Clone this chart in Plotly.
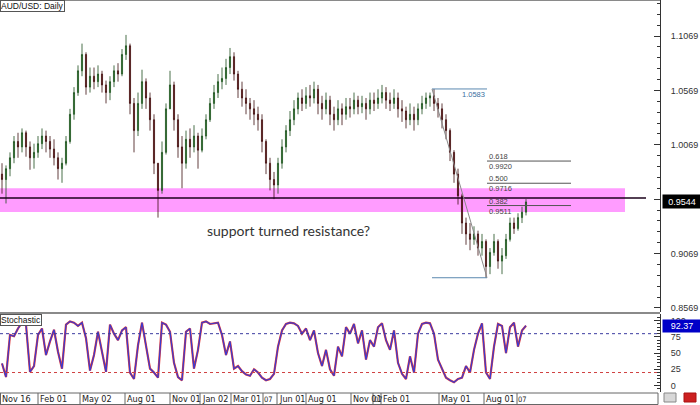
import plotly.graph_objects as go

# ---------------- data ----------------
first_open = 0.980
closes = [
    0.975, 0.985, 0.995, 1.010, 1.005, 1.018, 1.005, 0.995, 1.000, 1.008,
    1.015, 1.010, 1.003, 0.995, 0.985, 0.990, 1.010, 1.035, 1.055, 1.075,
    1.090, 1.060, 1.070, 1.065, 1.072, 1.062, 1.055, 1.065, 1.075, 1.072,
    1.090, 1.098, 1.045, 1.020, 1.045, 1.065, 1.050, 1.030, 0.990, 0.965,
    1.000, 1.040, 1.062, 1.030, 1.005, 0.990, 1.012, 1.005, 1.015, 1.002,
    1.015, 1.030, 1.045, 1.055, 1.065, 1.068, 1.078, 1.088, 1.072, 1.058,
    1.050, 1.045, 1.040, 1.035, 1.030, 1.010, 0.990, 0.975, 0.970, 0.990,
    1.005, 1.020, 1.030, 1.040, 1.050, 1.045, 1.052, 1.050, 1.058, 1.045,
    1.040, 1.048, 1.035, 1.030, 1.040, 1.035, 1.042, 1.040, 1.048, 1.042,
    1.045, 1.040, 1.048, 1.045, 1.050, 1.055, 1.048, 1.045, 1.050, 1.040,
    1.038, 1.030, 1.035, 1.030, 1.040, 1.045, 1.050, 1.052, 1.045, 1.040,
    1.030, 1.020, 1.000, 0.980, 0.960, 0.935, 0.925, 0.920, 0.925, 0.912,
    0.918, 0.895, 0.908, 0.918, 0.900, 0.905, 0.920, 0.935, 0.930, 0.940,
    0.945, 0.9544,
]
highs = [
    0.990, 0.988, 1.000, 1.015, 1.018, 1.022, 1.020, 1.010, 1.008, 1.015,
    1.022, 1.020, 1.015, 1.012, 1.000, 0.995, 1.015, 1.040, 1.060, 1.080,
    1.100, 1.092, 1.078, 1.078, 1.080, 1.075, 1.066, 1.070, 1.080, 1.082,
    1.095, 1.108, 1.100, 1.050, 1.055, 1.076, 1.068, 1.055, 1.035, 0.990,
    1.010, 1.045, 1.075, 1.065, 1.035, 1.015, 1.020, 1.022, 1.025, 1.018,
    1.022, 1.035, 1.050, 1.062, 1.072, 1.078, 1.086, 1.096, 1.092, 1.075,
    1.065, 1.058, 1.050, 1.048, 1.042, 1.035, 1.012, 0.995, 0.982, 0.995,
    1.012, 1.025, 1.038, 1.048, 1.055, 1.058, 1.060, 1.062, 1.065, 1.062,
    1.052, 1.055, 1.052, 1.042, 1.048, 1.045, 1.050, 1.050, 1.055, 1.052,
    1.052, 1.050, 1.055, 1.055, 1.058, 1.062, 1.060, 1.055, 1.058, 1.055,
    1.048, 1.042, 1.045, 1.042, 1.045, 1.052, 1.055, 1.055, 1.0583, 1.050,
    1.045, 1.035, 1.022, 1.002, 0.985, 0.962, 0.940, 0.935, 0.932, 0.928,
    0.925, 0.920, 0.912, 0.925, 0.920, 0.912, 0.925, 0.940, 0.940, 0.944,
    0.950, 0.957,
]
lows = [
    0.962, 0.953, 0.978, 0.990, 0.995, 1.000, 0.996, 0.984, 0.985, 0.995,
    1.003, 1.000, 0.995, 0.988, 0.975, 0.972, 0.988, 1.008, 1.030, 1.052,
    1.070, 1.053, 1.055, 1.058, 1.060, 1.055, 1.045, 1.048, 1.060, 1.065,
    1.070, 1.085, 1.035, 1.000, 1.015, 1.040, 1.040, 1.020, 0.980, 0.940,
    0.962, 0.998, 1.040, 1.020, 0.995, 0.967, 0.985, 0.995, 1.000, 0.985,
    1.000, 1.012, 1.028, 1.040, 1.050, 1.058, 1.062, 1.072, 1.066, 1.050,
    1.042, 1.035, 1.030, 1.025, 1.020, 1.000, 0.980, 0.965, 0.957, 0.962,
    0.985, 1.000, 1.015, 1.025, 1.035, 1.038, 1.040, 1.042, 1.045, 1.035,
    1.030, 1.035, 1.025, 1.020, 1.025, 1.025, 1.030, 1.032, 1.035, 1.035,
    1.036, 1.030, 1.035, 1.038, 1.040, 1.045, 1.040, 1.038, 1.040, 1.032,
    1.028, 1.022, 1.025, 1.020, 1.025, 1.035, 1.040, 1.042, 1.038, 1.032,
    1.022, 1.012, 0.992, 0.972, 0.952, 0.925, 0.915, 0.910, 0.915, 0.905,
    0.905, 0.8847, 0.888, 0.905, 0.893, 0.888, 0.902, 0.918, 0.925, 0.928,
    0.935, 0.942,
]
stoch_k = [
    34, 13, 78, 76, 88, 97, 94, 21, 30, 78,
    88, 47, 68, 86, 52, 26, 94, 99, 97, 92,
    97, 73, 23, 47, 83, 52, 21, 94, 80, 70,
    85, 90, 20, 10, 62, 97, 62, 26, 20, 12,
    97, 94, 83, 35, 13, 8, 83, 88, 26, 55,
    97, 99, 95, 96, 97, 78, 47, 68, 26, 30,
    22, 17, 15, 25, 20, 12, 8, 10, 18, 60,
    85, 95, 97, 96, 92, 80, 88, 70, 85, 50,
    30, 55, 25, 15, 60, 45, 90, 80, 95, 65,
    85, 40, 70, 60, 90, 96, 70, 55, 85, 35,
    18, 10, 45, 20, 80, 95, 97, 96, 80, 40,
    25, 12, 8, 5, 10, 12, 30, 20, 55, 80,
    96, 20, 10, 60, 95, 92, 50, 90, 97, 60,
    85, 92.37,
]
date_labels = ["Nov 16", "Feb 01", "May 02", "Aug 01", "Nov 01", "Jan 02", "Mar 01", "07",
               "Jun 01", "Aug 01", "Nov 01", "07", "Feb 01", "May 01", "Aug 01", "07"]
date_label_bars = [-0.5, 9, 19.5, 30.75, 42, 49.5, 57.25, 65.25,
                   68.75, 76, 87.25, 92.75, 94.75, 109.25, 120.5, 128.75]

fib_ratio_labels = ["0.618", "0.500", "0.382"]
fib_prices = [0.9920, 0.9716, 0.9511]
swing_high = 1.0583
swing_low = 0.8847
swing_high_bar = 107.5
swing_low_bar = 121.25
fib_end_bar = 142.25

zone_low, zone_high = 0.9451, 0.9671
zone_end_bar = 155.75
sr_level = 0.9580
sr_end_bar = 161

last_price = 0.9544
last_stoch = 92.37
overbought, oversold = 80, 20

# ---------------- layout geometry ----------------
W, H = 700, 405
PLOT_W, PLOT_H = 660, 392
X_RANGE = [-0.5, 164.5]


def bar_px(b):
    return (b - X_RANGE[0]) / (X_RANGE[1] - X_RANGE[0])


def py(p):
    return 1 - p / PLOT_H


N = len(closes)
bars = list(range(N))
opens = [first_open] + closes[:-1]

AXFONT = dict(family="Liberation Sans, Arial, sans-serif", size=9, color="#333333")
NARROW = "Liberation Sans Narrow, DejaVu Sans Condensed, Liberation Sans, Arial"

fig = go.Figure()
fig.add_trace(go.Candlestick(
    x=bars, open=opens, high=highs, low=lows, close=closes,
    xaxis="x", yaxis="y",
    increasing=dict(line=dict(color="#1d4d1d", width=0.8), fillcolor="#2e9a2e"),
    decreasing=dict(line=dict(color="#3b0d0d", width=0.8), fillcolor="#8c1c1c"),
    whiskerwidth=0, showlegend=False, hoverinfo="skip",
))
fig.add_trace(go.Scatter(x=bars, y=stoch_k, xaxis="x2", yaxis="y2", mode="lines",
                         line=dict(color="#e03a3a", width=2.2), showlegend=False, hoverinfo="skip"))
fig.add_trace(go.Scatter(x=bars, y=stoch_k, xaxis="x2", yaxis="y2", mode="lines",
                         line=dict(color="#3a3ad0", width=1.2), showlegend=False, hoverinfo="skip"))

shapes = []
# support/resistance zone and line
shapes.append(dict(type="rect", xref="x", yref="y", x0=X_RANGE[0], x1=zone_end_bar,
                   y0=zone_low, y1=zone_high, fillcolor="#ff9cff", line=dict(width=0), layer="below"))
shapes.append(dict(type="line", xref="x", yref="y", x0=X_RANGE[0], x1=sr_end_bar,
                   y0=sr_level, y1=sr_level, line=dict(color="#1a001a", width=1.5)))
# fibonacci tool
shapes.append(dict(type="line", xref="x", yref="y", x0=swing_high_bar, x1=swing_low_bar,
                   y0=swing_high, y1=swing_high, line=dict(color="#5b88b0", width=1)))
shapes.append(dict(type="line", xref="x", yref="y", x0=swing_high_bar, x1=swing_low_bar,
                   y0=swing_low, y1=swing_low, line=dict(color="#5b88b0", width=1)))
shapes.append(dict(type="line", xref="x", yref="y", x0=swing_high_bar, x1=swing_low_bar,
                   y0=swing_high, y1=swing_low, line=dict(color="#8a8a8a", width=1)))
for fp in fib_prices:
    shapes.append(dict(type="line", xref="x", yref="y", x0=swing_low_bar, x1=fib_end_bar,
                       y0=fp, y1=fp, line=dict(color="#555555", width=1)))
# stochastic levels
shapes.append(dict(type="line", xref="paper", yref="y2", x0=0, x1=1, y0=overbought, y1=overbought,
                   line=dict(color="#3a3aa0", width=1, dash="dot")))
shapes.append(dict(type="line", xref="paper", yref="y2", x0=0, x1=1, y0=oversold, y1=oversold,
                   line=dict(color="#d04040", width=1, dash="dot")))
# frame lines
shapes.append(dict(type="line", xref="paper", yref="paper", x0=0, x1=1, y0=py(0.5), y1=py(0.5),
                   line=dict(color="#8a8a8a", width=1)))
shapes.append(dict(type="line", xref="paper", yref="paper", x0=0, x1=1, y0=py(313), y1=py(313),
                   line=dict(color="#8a8a8a", width=2)))
shapes.append(dict(type="line", xref="paper", yref="paper", x0=0, x1=658 / PLOT_W, y0=py(393), y1=py(393),
                   line=dict(color="#666666", width=1)))
shapes.append(dict(type="line", xref="paper", yref="paper", x0=0, x1=658 / PLOT_W, y0=py(404.5), y1=py(404.5),
                   line=dict(color="#666666", width=1)))
shapes.append(dict(type="line", xref="paper", yref="paper", x0=658 / PLOT_W, x1=658 / PLOT_W,
                   y0=py(393), y1=py(404.5), line=dict(color="#666666", width=1)))
for b in date_label_bars:
    xp = max(bar_px(b), 0.5 / PLOT_W)
    shapes.append(dict(type="line", xref="paper", yref="paper", x0=xp, x1=xp, y0=py(393), y1=py(404.5),
                       line=dict(color="#666666", width=1)))
# small icons bottom right
shapes.append(dict(type="rect", xref="paper", yref="paper", x0=664 / PLOT_W, x1=676 / PLOT_W,
                   y0=py(402), y1=py(393), fillcolor="#d8d8d8", line=dict(color="#888888", width=1)))
shapes.append(dict(type="rect", xref="paper", yref="paper", x0=684 / PLOT_W, x1=696 / PLOT_W,
                   y0=py(402), y1=py(393), fillcolor="#cc2020", line=dict(color="#aa1010", width=1)))

annotations = []
annotations.append(dict(text="AUD/USD: Daily", xref="paper", yref="paper", x=0, y=1, xanchor="left",
                        yanchor="top", showarrow=False, bgcolor="#ffffff", bordercolor="#555555",
                        borderwidth=1, borderpad=0,
                        font=dict(family="Liberation Sans, Arial", size=8.5, color="#111111")))
annotations.append(dict(text="Stochastic", xref="paper", yref="paper", x=0, y=py(313.5), xanchor="left",
                        yanchor="top", showarrow=False, bgcolor="#ffffff", bordercolor="#555555",
                        borderwidth=1, borderpad=0,
                        font=dict(family="Liberation Sans, Arial", size=8.5, color="#111111")))
annotations.append(dict(text="support turned resistance?", xref="x", yref="y", x=71.5, y=0.9286,
                        showarrow=False, font=dict(family="Lato, sans-serif", size=14, color="#333333")))
annotations.append(dict(text=f"{swing_high:.4f}", xref="x", yref="y", x=swing_low_bar, y=swing_high,
                        xanchor="right", yanchor="top", showarrow=False, yshift=1,
                        font=dict(family="Liberation Sans, Arial", size=7.5, color="#3a6fa0")))
for lbl, fp in zip(fib_ratio_labels, fib_prices):
    annotations.append(dict(text=lbl, xref="x", yref="y", x=swing_low_bar, y=fp, xanchor="left",
                            yanchor="bottom", showarrow=False, yshift=-2,
                            font=dict(family="Liberation Sans, Arial", size=7.5, color="#444444")))
    annotations.append(dict(text=f"{fp:.4f}", xref="x", yref="y", x=swing_low_bar, y=fp, xanchor="left",
                            yanchor="top", showarrow=False, yshift=1,
                            font=dict(family="Liberation Sans, Arial", size=7.5, color="#444444")))
annotations.append(dict(text=f"{last_price:.4f}", xref="paper", yref="y", x=1.0, y=last_price,
                        xanchor="left", yanchor="middle", showarrow=False, bgcolor="#000000",
                        width=36, height=11, borderpad=1, xshift=2,
                        font=dict(family="Liberation Sans, Arial", size=9, color="#ffffff")))
annotations.append(dict(text=f"{last_stoch:.2f}", xref="paper", yref="y2", x=1.0, y=last_stoch,
                        xanchor="left", yanchor="middle", showarrow=False, bgcolor="#0000c8",
                        width=36, height=10, borderpad=1, xshift=2,
                        font=dict(family="Liberation Sans, Arial", size=9, color="#ffffff")))
for lbl, b in zip(date_labels, date_label_bars):
    short = len(lbl) <= 2
    annotations.append(dict(text=lbl, xref="x", yref="paper", x=b, y=py(399), xanchor="left",
                            yanchor="middle", showarrow=False, xshift=-1 if short else 0,
                            font=dict(family=NARROW, size=7.5 if short else 9, color="#222222")))

yaxis_common = dict(side="right", showgrid=False, zeroline=False, showline=True, linecolor="#333333",
                    linewidth=1, ticks="inside", ticklen=6, tickcolor="#333333", tickfont=AXFONT,
                    ticklabelstandoff=8)

fig.update_layout(
    width=W, height=H, margin=dict(l=0, r=W - PLOT_W, t=0, b=H - PLOT_H),
    paper_bgcolor="#ffffff", plot_bgcolor="#ffffff", showlegend=False,
    boxgap=0.6,
    xaxis=dict(domain=[0, 1], range=X_RANGE, anchor="y", visible=False,
               rangeslider=dict(visible=False), fixedrange=True),
    xaxis2=dict(domain=[0, 1], range=X_RANGE, anchor="y2", visible=False, matches="x"),
    yaxis=dict(domain=[py(312), 1], range=[0.8532, 1.1401], anchor="x",
               tickmode="linear", tick0=0.8569, dtick=0.05, tickformat=".4f",
               minor=dict(tick0=0.8569, dtick=0.01, ticks="inside", ticklen=3, tickcolor="#333333"),
               **yaxis_common),
    yaxis2=dict(domain=[0, py(314)], range=[-10.1, 110.4], anchor="x2",
                tickmode="linear", tick0=0, dtick=25,
                minor=dict(tick0=0, dtick=5, ticks="inside", ticklen=3, tickcolor="#333333"),
                **yaxis_common),
    shapes=shapes, annotations=annotations,
)

fig.write_html("out.html", config={"displayModeBar": False},
               post_script="document.body.style.margin='0px';")
